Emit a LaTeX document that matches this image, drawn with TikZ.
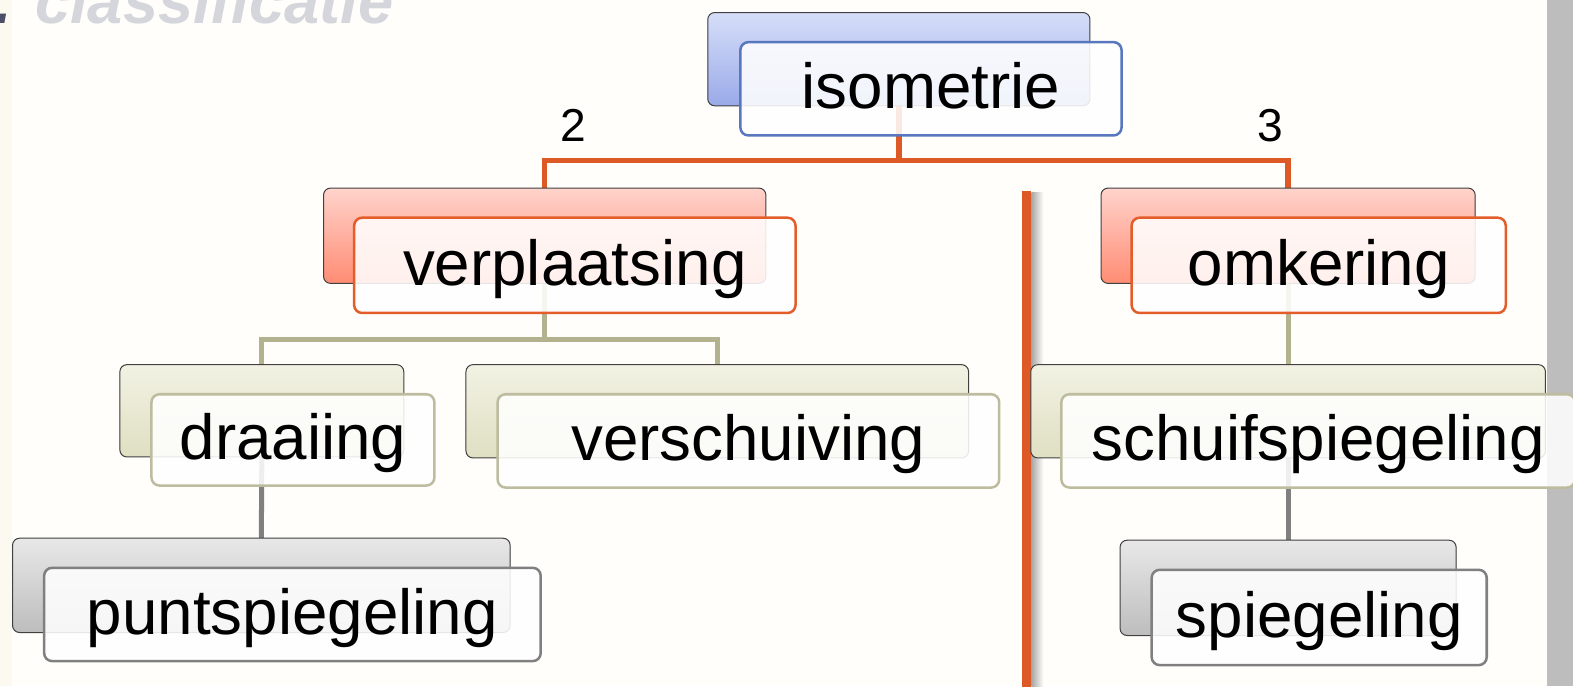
\documentclass[tikz,border=0pt]{standalone}
\usepackage{fontspec}
\setmainfont{Liberation Sans}
\usetikzlibrary{calc}
\definecolor{bg}{HTML}{FFFEFB}
\definecolor{leftstrip}{HTML}{FCFAF0}
\definecolor{rightstrip}{HTML}{BDBDBD}
\definecolor{titlegray}{HTML}{D4D6DC}
\definecolor{navy}{HTML}{4B5068}
\definecolor{orangeC}{HTML}{DD5A26}
\definecolor{oliveC}{HTML}{B3B28F}
\definecolor{grayC}{HTML}{808080}
\definecolor{blueTop}{HTML}{D6DEF8}
\definecolor{blueBot}{HTML}{9AAAE9}
\definecolor{blueEdge}{HTML}{5877BE}
\definecolor{redTop}{HTML}{FFD3CC}
\definecolor{redBot}{HTML}{FF8C73}
\definecolor{redEdge}{HTML}{E35D2B}
\definecolor{oliveTop}{HTML}{F2F2E4}
\definecolor{oliveBot}{HTML}{DFDFC2}
\definecolor{oliveEdge}{HTML}{BDBC9F}
\definecolor{grayTop}{HTML}{E8E8E8}
\definecolor{grayBot}{HTML}{BDBDBD}
\definecolor{grayEdge}{HTML}{808080}
\begin{document}
\begin{tikzpicture}[x=1pt,y=-1pt,
  backbox/.style={draw=black!75, line width=1, rounded corners=7, inner sep=0},
  frontbox/.style={line width=2.5, rounded corners=8, fill=white, fill opacity=0.87, text opacity=1, inner sep=0,
     font=\fontsize{63.5}{70}\selectfont, text height=45pt, text depth=5pt, text=black},
  blueback/.style={backbox, top color=blueTop, bottom color=blueBot},
  redback/.style={backbox, top color=redTop, bottom color=redBot},
  oliveback/.style={backbox, top color=oliveTop, bottom color=oliveBot},
  grayback/.style={backbox, top color=grayTop, bottom color=grayBot},
  bluefront/.style={frontbox, draw=blueEdge},
  redfront/.style={frontbox, draw=redEdge},
  olivefront/.style={frontbox, draw=oliveEdge},
  grayfront/.style={frontbox, draw=grayEdge},
  orangeline/.style={draw=orangeC, line width=5.5, line join=miter},
  oliveline/.style={draw=oliveC, line width=5, line join=miter},
  grayline/.style={draw=grayC, line width=5},
  numlabel/.style={font=\fontsize{46}{50}\selectfont, inner sep=0, text=black}
]
\useasboundingbox (0,0) rectangle (1568,684);
\clip (0,0) rectangle (1568,684);
\fill[bg] (0,0) rectangle (1568,684);
\fill[leftstrip] (0,0) rectangle (12,684);
\fill[rightstrip] (1542,0) rectangle (1568,684);

% title fragment (cut off at the top edge, as in the reference)
\node[anchor=base west, inner sep=0, font=\fontsize{63}{70}\selectfont\bfseries\itshape, text=titlegray] (title) at (-6,23) {\textcolor{navy}{.} classificatie};

% big separator line with shadow
\coordinate (sepTop) at (1023.5,190);
\coordinate (sepBot) at (1023.5,690);
\shade[left color=black!35, right color=bg] (1028,192) rectangle (1040,690);
\draw[draw=orangeC, line width=9] (sepTop) -- (sepBot);

\coordinate (j1) at (896,160);
\coordinate (j2) at (543,338);

% back boxes
\node[blueback, minimum width=380, minimum height=92] (isoB) at (896,59) {};
\node[redback, minimum width=440, minimum height=94] (verB) at (543,235) {};
\node[redback, minimum width=372, minimum height=94] (omkB) at (1284,235) {};
\node[oliveback, minimum width=282, minimum height=91] (draB) at (261,409.5) {};
\node[oliveback, minimum width=500, minimum height=92] (vsB) at (715,410) {};
\node[oliveback, minimum width=512, minimum height=92] (scB) at (1284,410) {};
\node[grayback, minimum width=495, minimum height=93] (ptB) at (260.5,583.5) {};
\node[grayback, minimum width=334, minimum height=94] (spB) at (1284,586) {};

% connectors
\draw[orangeline] (isoB.south) -- (j1) -| (verB.north);
\draw[orangeline] (j1) -| (omkB.north);
\draw[oliveline] (verB.south) -- (j2) -| (draB.north);
\draw[oliveline] (j2) -| (vsB.north);
\draw[oliveline] (omkB.south) -- (scB.north);
\draw[grayline] (draB.south) -- (ptB.north);
\draw[grayline] (scB.south) -- (spB.north);

% repaint back boxes over connector ends
\path[blueback] (isoB.south west) rectangle (isoB.north east);
\path[redback] (verB.south west) rectangle (verB.north east);
\path[redback] (omkB.south west) rectangle (omkB.north east);
\path[oliveback] (draB.south west) rectangle (draB.north east);
\path[oliveback] (vsB.south west) rectangle (vsB.north east);
\path[oliveback] (scB.south west) rectangle (scB.north east);
\path[grayback] (ptB.south west) rectangle (ptB.north east);
\path[grayback] (spB.south west) rectangle (spB.north east);

% front boxes with text
\node[bluefront, minimum width=380, minimum height=93] (iso) at (928,88.5) {isometrie};
\node[redfront, minimum width=440, minimum height=95] (ver) at (573,264.5) {verplaatsing};
\node[redfront, minimum width=373, minimum height=95] (omk) at (1314.5,264.5) {omkering};
\node[olivefront, minimum width=282, minimum height=91] (dra) at (292,438.5) {draaiing};
\node[olivefront, minimum width=500, minimum height=93] (vs) at (746,439.5) {verschuiving};
\node[olivefront, minimum width=512, minimum height=93] (sc) at (1314,439.5) {schuifspiegeling};
\node[grayfront, minimum width=495, minimum height=93] (pt) at (291.5,612.5) {puntspiegeling};
\node[grayfront, minimum width=334, minimum height=95] (sp) at (1315,615.5) {spiegeling};

% branch labels
\node[numlabel] (n2) at (572,125) {2};
\node[numlabel] (n3) at (1266,125) {3};
\end{tikzpicture}
\end{document}
